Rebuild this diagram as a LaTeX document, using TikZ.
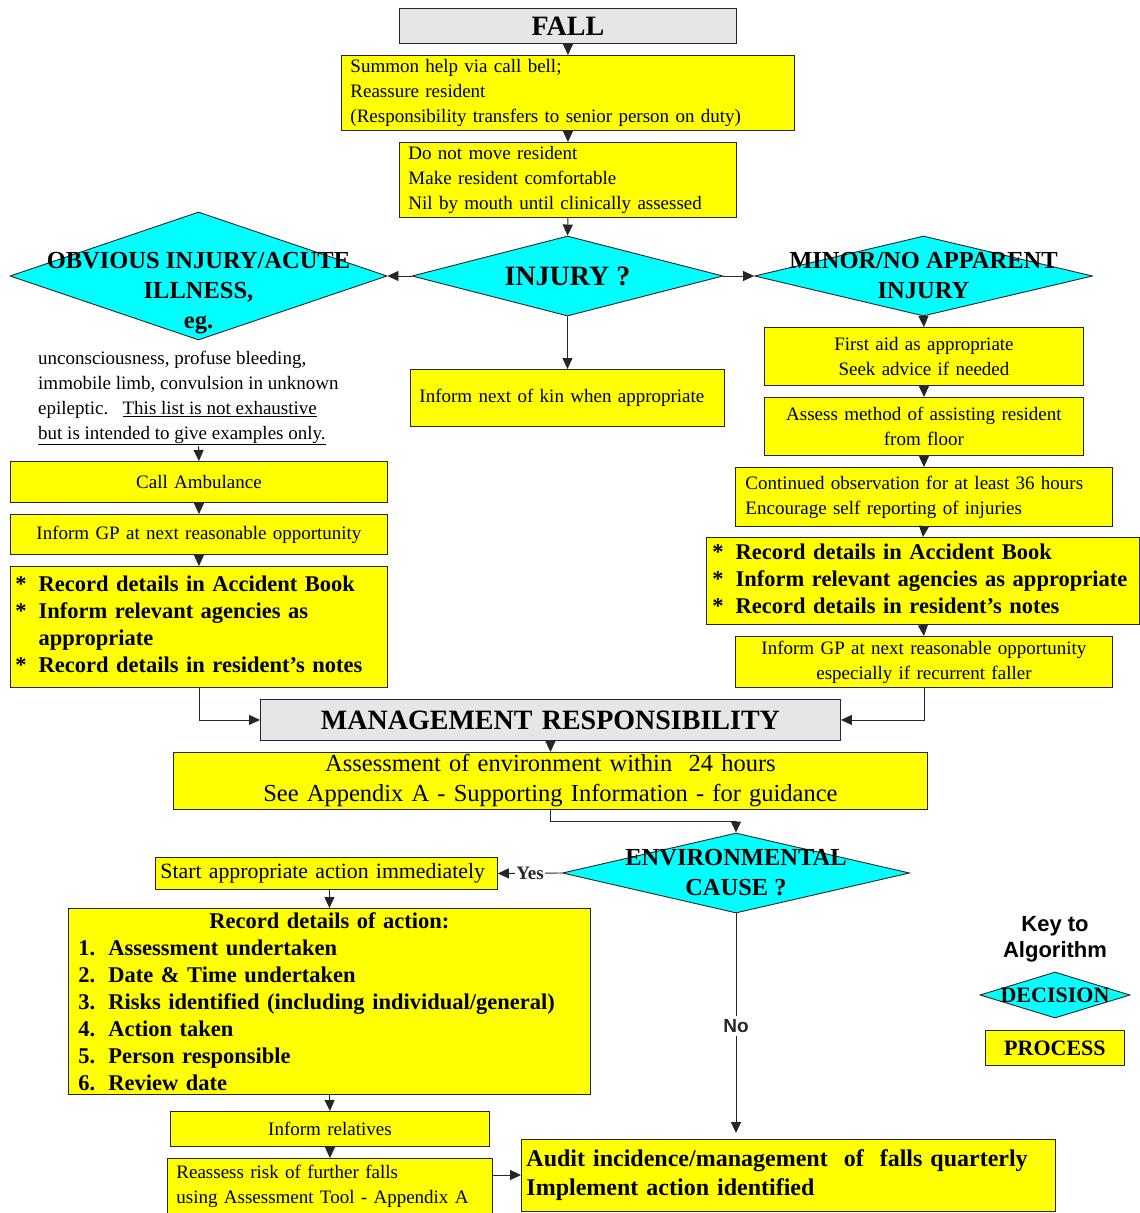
\documentclass[tikz,border=0pt]{standalone}
\usepackage{fontspec}
\setmainfont{Liberation Serif}
\setsansfont{Liberation Sans}
\usetikzlibrary{shapes.geometric}
\usetikzlibrary{arrows.meta}
\usetikzlibrary{positioning}

\definecolor{procyellow}{RGB}{255,255,0}
\definecolor{deccyan}{RGB}{0,255,255}
\definecolor{headgray}{RGB}{230,230,230}

\tikzset{
  proc/.style={draw=black!85, fill=procyellow, line width=0.9pt, anchor=north west,
    inner xsep=9pt, inner ysep=0pt, align=left, font=\fontsize{19}{25}\selectfont},
  head/.style={proc, fill=headgray, align=center, font=\bfseries\fontsize{28}{32}\selectfont},
  bullets/.style={inner xsep=5pt, font=\bfseries\fontsize{22.5}{27}\selectfont},
  decision/.style={diamond, draw=black!85, fill=deccyan, line width=0.9pt, inner sep=0pt},
  dlabel/.style={align=center, inner sep=0pt, font=\bfseries\fontsize{24.5}{30}\selectfont},
  link/.style={-{Triangle[length=11pt,width=10pt]}, line width=0.9pt, black!85}
}

\begin{document}
\begin{tikzpicture}[x=1pt, y=-1pt]
  \path[use as bounding box, fill=white] (0,0) rectangle (1140,1213);

  \node[head, text width=319pt, minimum height=35pt] (fall) at (399,8) {FALL};
  \node[proc, text width=435pt, minimum height=75pt] (summon) at (341,55)
    {Summon help via call bell;\\Reassure resident\\(Responsibility transfers to senior person on duty)};
  \node[proc, text width=319pt, minimum height=75pt] (stay) at (399,142)
    {Do not move resident\\Make resident comfortable\\Nil by mouth until clinically assessed};

  \node[decision, minimum width=311pt, minimum height=80pt,
    label={[dlabel, font=\bfseries\fontsize{28}{32}\selectfont]center:{INJURY ?}}] (injury) at (567.5,276) {};
  \node[decision, minimum width=377pt, minimum height=128pt,
    label={[dlabel, yshift=-17pt]center:{OBVIOUS INJURY/ACUTE\\ILLNESS,\\eg.}}] (obvious) at (198.5,276) {};
  \node[decision, minimum width=338pt, minimum height=80pt,
    label={[dlabel]center:{MINOR/NO APPARENT\\INJURY}}] (minor) at (923.5,276) {};

  \node[proc, text width=296pt, minimum height=57pt] (kin) at (410,369) {Inform next of kin when appropriate};

  \node[anchor=west, align=left, inner sep=0pt, font=\fontsize{19}{25}\selectfont] (examples) at (38,398)
    {unconsciousness, profuse bleeding,\\immobile limb, convulsion in unknown\\epileptic.\ \ \ \underline{This list is not exhaustive}\\\underline{but is intended to give examples only.}};
  \coordinate (examplesend) at (198.5,446);

  \node[proc, align=center, text width=359pt, minimum height=41pt] (ambulance) at (10,461) {Call Ambulance};
  \node[proc, align=center, text width=359pt, minimum height=40pt] (gpleft) at (10,514) {Inform GP at next reasonable opportunity};
  \node[proc, bullets, text width=367pt, minimum height=121pt] (recordleft) at (10,566)
    {\begin{tabular}{@{}l@{\hspace{12pt}}l@{}}{*}&Record details in Accident Book\\{*}&Inform relevant agencies as\\&appropriate\\{*}&Record details in resident's notes\end{tabular}};

  \node[proc, align=center, text width=301pt, minimum height=58pt] (firstaid) at (764,327) {First aid as appropriate\\Seek advice if needed};
  \node[proc, align=center, text width=301pt, minimum height=58pt] (lifting) at (764,397) {Assess method of assisting resident\\from floor};
  \node[proc, inner xsep=10pt, text width=357pt, minimum height=59pt] (observe) at (735,467)
    {Continued observation for at least 36 hours\\Encourage self reporting of injuries};
  \node[proc, bullets, inner xsep=6pt, text width=421pt, minimum height=87pt] (recordright) at (706,537)
    {\begin{tabular}{@{}l@{\hspace{12pt}}l@{}}{*}&Record details in Accident Book\\{*}&Inform relevant agencies as appropriate\\{*}&Record details in resident's notes\end{tabular}};
  \node[proc, align=center, text width=359pt, minimum height=51pt] (gpright) at (735,636)
    {Inform GP at next reasonable opportunity\\especially if recurrent faller};

  \node[head, text width=562pt, minimum height=41pt] (mgmt) at (260,699) {MANAGEMENT RESPONSIBILITY};
  \node[proc, align=center, text width=736pt, minimum height=57pt, font=\fontsize{24.5}{30}\selectfont] (environment) at (173,752)
    {Assessment of environment within\ \ 24 hours\\See Appendix A - Supporting Information - for guidance};

  \node[decision, minimum width=347pt, minimum height=80pt,
    label={[dlabel]center:{ENVIRONMENTAL\\CAUSE ?}}] (envcause) at (736,873) {};

  \node[proc, inner xsep=5pt, text width=332pt, minimum height=32pt, font=\fontsize{21.8}{27}\selectfont] (start) at (155,857)
    {Start appropriate action immediately};
  \node[proc, inner xsep=10pt, text width=502pt, minimum height=186pt, font=\bfseries\fontsize{22.5}{27}\selectfont] (actions) at (68,908)
    {\noindent\makebox[502pt][c]{Record details of action:}\\
     \makebox[30pt][l]{1.}Assessment undertaken\\
     \makebox[30pt][l]{2.}Date \& Time undertaken\\
     \makebox[30pt][l]{3.}Risks identified (including individual/general)\\
     \makebox[30pt][l]{4.}Action taken\\
     \makebox[30pt][l]{5.}Person responsible\\
     \makebox[30pt][l]{6.}Review date};
  \node[proc, align=center, text width=301pt, minimum height=35pt] (relatives) at (170,1111) {Inform relatives};
  \node[proc, text width=307pt, minimum height=56pt] (reassess) at (167,1158)
    {Reassess risk of further falls\\using Assessment Tool - Appendix A};
  \node[proc, inner xsep=5pt, text width=524pt, minimum height=72pt, font=\bfseries\fontsize{24}{29}\selectfont] (audit) at (521,1139)
    {Audit incidence/management\ \ of\ \ falls quarterly\\Implement action identified};

  \node[align=center, font=\sffamily\bfseries\fontsize{22}{26}\selectfont] (keytitle) at (1055,939) {Key to\\Algorithm};
  \node[decision, minimum width=150pt, minimum height=46pt,
    label={[dlabel, font=\bfseries\fontsize{22}{26}\selectfont]center:DECISION}] (keydecision) at (1055,995) {};
  \node[head, fill=procyellow, text width=121pt, minimum height=35pt, font=\bfseries\fontsize{22}{26}\selectfont] (keyprocess) at (985,1030) {PROCESS};

  \draw[link] (fall.south) -- (summon.north);
  \draw[link] (summon.south) -- (stay.north);
  \draw[link] (stay.south) -- (injury.north);
  \draw[link] (injury.west) -- (obvious.east);
  \draw[link] (injury.east) -- (minor.west);
  \draw[link] (injury.south) -- (kin.north);
  \draw[link] (examplesend) -- (ambulance.north);
  \draw[link] (ambulance.south) -- (gpleft.north);
  \draw[link] (gpleft.south) -- (recordleft.north);
  \draw[link] (minor.south) -- (firstaid.north);
  \draw[link] (firstaid.south) -- (lifting.north);
  \draw[link] (lifting.south) -- (observe.north);
  \draw[link] (observe.south) -- (recordright.north);
  \draw[link] (recordright.south) -- (gpright.north);
  \draw[link] (recordleft.south) |- (mgmt.west);
  \draw[link] (gpright.south) |- (mgmt.east);
  \draw[link] (mgmt.south) -- (environment.north);
  \draw[link] (environment.south) -- ++(0,12) -| (envcause.north);
  \draw[link] (envcause.west) -- node[fill=white, inner sep=1pt, font=\bfseries\fontsize{19}{22}\selectfont] {Yes} (start.east);
  \draw[link] (start.south -| actions.north) -- (actions.north);
  \draw[link] (actions.south) -- (relatives.north);
  \draw[link] (relatives.south) -- (reassess.north);
  \draw[link] ([yshift=-17pt]reassess.north east) -- ([yshift=-17pt]reassess.north east -| audit.west);
  \draw[link, shorten >=6pt] (envcause.south) -- node[fill=white, font=\sffamily\bfseries\fontsize{19}{22}\selectfont] {No} (envcause.south |- audit.north);
\end{tikzpicture}
\end{document}
